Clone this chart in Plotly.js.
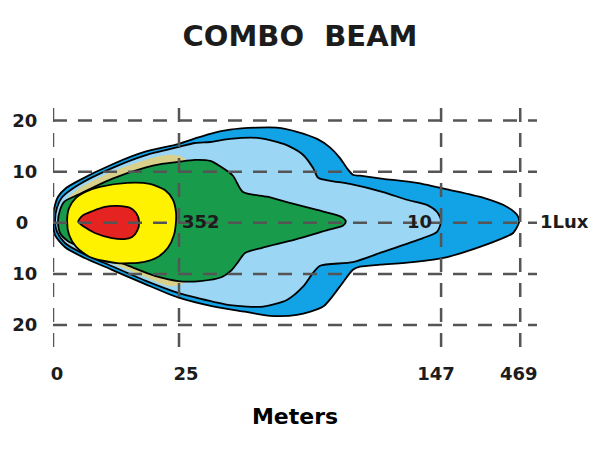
<!DOCTYPE html>
<html>
<head>
<meta charset="utf-8">
<script src="https://cdn.plot.ly/plotly-3.0.1.min.js"></script>
<style>html,body{margin:0;padding:0;background:#fff;}#chart{width:610px;height:450px;}</style>
</head>
<body>
<div id="chart"></div>
<script>
// Axis ticks (x positions are on the drawing's distance scale; labels are the meters)
const xGrid = [0, 25, 77.0, 92.7];
const xLabelPos = [0.8, 26.4, 76.0, 92.4];
const xTickText = ['0', '25', '147', '469'];
const yGrid = [20, 10, 0, -10, -20];
const yTickText = ['20', '10', '0\u2002', '10', '20'];

// Isolux outlines (x on the drawing scale, y lateral)
const blueX = [0, 0.2, 1.0, 2.6, 5.0, 11.7, 18.3, 24.8, 28.2, 31.2, 35.1, 40.5, 44.4, 48.4, 52.4, 55.0, 56.9, 58.3, 59.5, 60.9, 65.5, 72.2, 78.8, 85.3, 90.1, 92.1, 92.5, 91.3, 89.7, 84.7, 78.2, 71.4, 64.9, 60.9, 59.5, 56.9, 53.6, 48.4, 43.1, 38.1, 31.5, 24.8, 18.3, 11.7, 6.3, 2.4, 0.4];
const blueY = [0.4, 2.6, 5.1, 6.8, 8.2, 11.4, 13.9, 15.4, 16.5, 17.4, 18.2, 18.6, 18.6, 17.8, 16.4, 14.7, 12.7, 10.7, 9.4, 9.2, 8.6, 7.8, 6.4, 4.9, 3.1, 1.5, 0.2, -2.0, -2.8, -4.7, -6.7, -7.7, -8.2, -8.6, -9.2, -12.5, -16.4, -18.0, -18.2, -17.4, -16.3, -14.6, -12.0, -9.2, -6.9, -4.8, -2.4];

const lightX = [0.4, 0.8, 1.8, 5.0, 11.7, 18.3, 24.8, 28.2, 31.2, 35.1, 40.5, 44.4, 47.0, 49.6, 51.6, 52.6, 55.0, 58.9, 65.5, 70.2, 74.2, 76.2, 77.0, 76.2, 73.4, 64.9, 59.5, 53.0, 51.6, 49.6, 46.4, 41.7, 35.1, 28.6, 24.8, 18.3, 11.7, 6.3, 2.4, 0.8];
const lightY = [0.4, 3.0, 5.0, 7.4, 10.7, 13.2, 14.8, 15.6, 15.8, 16.4, 16.6, 15.8, 14.9, 13.3, 10.7, 8.8, 8.2, 7.6, 6.0, 4.5, 3.5, 2.1, 0.4, -1.8, -3.0, -5.9, -7.7, -8.4, -9.8, -12.5, -15.1, -16.4, -16.1, -14.7, -13.7, -11.3, -8.5, -6.2, -4.0, -1.8];

const tanX = [1.0, 1.6, 5.0, 11.7, 18.3, 23.2, 26.2, 26.2, 23.2, 18.3, 11.7, 6.3, 2.4, 1.2];
const tanY = [0.4, 3.3, 6.6, 10.0, 12.3, 13.3, 12.5, -11.6, -12.4, -10.6, -7.9, -5.6, -3.4, -1.4];

const greenX = [1.0, 1.4, 2.2, 5.0, 11.7, 18.3, 21.6, 24.8, 28.2, 31.2, 33.7, 35.7, 37.7, 42.5, 47.0, 52.4, 56.3, 57.5, 58.1, 57.5, 54.6, 48.0, 41.5, 38.1, 36.7, 35.5, 33.5, 29.2, 24.8, 20.2, 14.9, 8.3, 3.0, 1.4];
const greenY = [0.4, 2.5, 4.1, 5.5, 8.6, 10.8, 11.5, 11.9, 12.3, 12.1, 10.7, 9.2, 6.0, 5.1, 3.9, 2.5, 1.5, 1.0, 0.2, -0.6, -1.4, -3.3, -4.9, -5.9, -7.7, -9.2, -10.6, -11.4, -11.4, -10.4, -8.4, -5.9, -3.6, -2.0];

const yellowX = [2.8, 3.2, 4.6, 6.3, 9.3, 14.7, 19.2, 22.2, 23.8, 24.4, 24.4, 24.0, 22.8, 20.8, 17.9, 12.7, 7.3, 4.6, 3.2];
const yellowY = [0.4, 2.9, 4.9, 6.0, 7.0, 7.8, 7.6, 6.4, 4.5, 2.1, 0.2, -2.4, -4.9, -6.7, -7.7, -7.9, -6.7, -4.7, -2.4];

const redX = [5.0, 5.8, 7.9, 10.3, 12.7, 15.3, 16.5, 17.1, 16.7, 15.7, 14.1, 11.7, 8.3, 6.2];
const redY = [0.2, 1.35, 2.3, 3.1, 3.3, 2.9, 1.9, 0.2, -1.6, -2.8, -3.2, -3.0, -2.0, -0.8];

const zoneLabels = ['352', '10'];
const zoneLabelX = [25.2, 72.8];
const zoneLabelY = [0.3, 0.3];
const edgeLabel = '1Lux';

const FONT = 'DejaVu Sans, Verdana, sans-serif';
const INK = '#1c1c1c';

function zone(x, y, fill, lineW) {
  return {
    type: 'scatter', mode: 'lines',
    x: x.concat([x[0]]), y: y.concat([y[0]]),
    fill: 'toself', fillcolor: fill,
    line: {color: lineW > 0 ? '#000' : fill, width: lineW, shape: 'spline', smoothing: 0.7},
    hoverinfo: 'skip', showlegend: false
  };
}

const traces = [
  zone(blueX, blueY, '#12a2e6', 1.8),
  zone(lightX, lightY, '#9bd6f4', 1.8),
  zone(tanX, tanY, '#d9d08c', 0),
  zone(greenX, greenY, '#189b4b', 1.8),
  zone(yellowX, yellowY, '#fff200', 1.8),
  zone(redX, redY, '#e52421', 1.8)
];

const gridLine = {color: '#555555', width: 2.5, dash: '14px,11px'};
const shapes = [];
xGrid.forEach(v => shapes.push({type: 'line', xref: 'x', yref: 'paper', x0: v, x1: v, y0: 0, y1: 1, line: gridLine, layer: 'above'}));
yGrid.forEach(v => shapes.push({type: 'line', xref: 'paper', yref: 'y', x0: 0, x1: 1, y0: v, y1: v, line: gridLine, layer: 'above'}));

const annotations = zoneLabels.map((t, i) => ({
  x: zoneLabelX[i], y: zoneLabelY[i], xref: 'x', yref: 'y', text: t, showarrow: false,
  xanchor: i === 1 ? 'center' : 'left', yanchor: 'middle',
  font: {family: FONT, size: 18, color: INK, weight: 'bold'}
}));
annotations.push({
  x: 1.003, y: 0.3, xref: 'paper', yref: 'y', text: edgeLabel, showarrow: false,
  xanchor: 'left', yanchor: 'middle',
  font: {family: FONT, size: 18, color: INK, weight: 'bold'}
});

const layout = {
  width: 610, height: 450,
  margin: {l: 53, r: 73, t: 97, b: 103, pad: 0},
  paper_bgcolor: '#ffffff', plot_bgcolor: '#ffffff',
  showlegend: false,
  title: {
    text: 'COMBO\u00A0\u00A0BEAM', xref: 'container', yref: 'container',
    x: 300 / 610, xanchor: 'center', y: 1 - 36 / 450, yanchor: 'middle',
    font: {family: FONT, size: 29, color: INK, weight: 'bold'}
  },
  xaxis: {
    range: [0, 96.03], showgrid: false, zeroline: false, showline: false,
    tickmode: 'array', tickvals: xLabelPos, ticktext: xTickText,
    ticks: 'outside', ticklen: 10, tickcolor: 'rgba(0,0,0,0)',
    tickfont: {family: FONT, size: 18, color: INK, weight: 'bold'},
    title: {text: 'Meters', standoff: 26, font: {family: FONT, size: 22, color: '#000', weight: 'bold'}},
    fixedrange: true
  },
  yaxis: {
    range: [-24.3, 24.6], showgrid: false, zeroline: false, showline: false,
    tickmode: 'array', tickvals: yGrid, ticktext: yTickText,
    ticks: 'outside', ticklen: 11, tickcolor: 'rgba(0,0,0,0)',
    tickfont: {family: FONT, size: 18, color: INK, weight: 'bold'},
    fixedrange: true
  },
  shapes: shapes,
  annotations: annotations
};

Plotly.newPlot('chart', traces, layout, {displayModeBar: false, staticPlot: true});
</script>
</body>
</html>
